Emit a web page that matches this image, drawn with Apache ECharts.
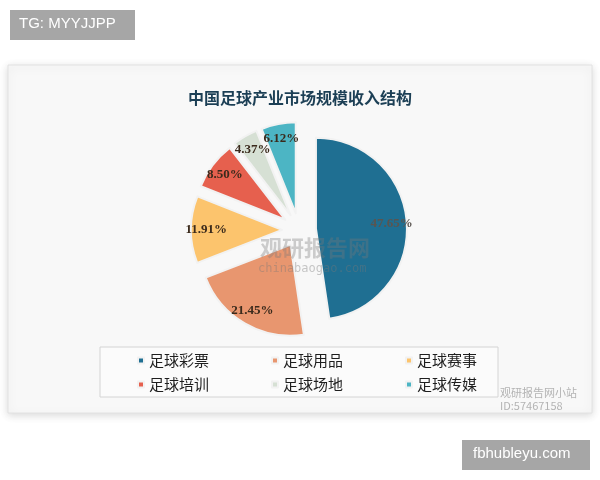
<!DOCTYPE html>
<html lang="zh">
<head>
    <meta charset="UTF-8">
    <title>中国足球产业市场规模收入结构</title>
    <script src="https://cdn.jsdelivr.net/npm/echarts@6/dist/echarts.min.js"></script>
    <style>
        html, body { margin: 0; padding: 0; background: #fff; }
    </style>
</head>
<body>
    <div id="main" style="width: 600px; height: 480px;"></div>
    <script>
        // data (percent of total)
        var categories = ['足球彩票', '足球用品', '足球赛事', '足球培训', '足球场地', '足球传媒'];
        var shares = [47.65, 21.45, 11.91, 8.50, 4.37, 6.12];
        var colors = ['#1f6f92', '#e8966f', '#fcc46d', '#e6604e', '#d6e0d4', '#4cb5c4'];

        var chart = echarts.init(document.getElementById('main'));

        var center = [299, 230];
        var R = 91;

        var pieData = categories.map(function (name, i) {
            return { name: name, value: shares[i], selected: true };
        });
        // label of the dark slice is drawn dimmer in the original
        var labelData = pieData.map(function (d, i) {
            var item = { name: d.name, value: d.value, selected: true };
            if (i === 0) item.label = { color: '#5a5550' };
            return item;
        });

        var legendText = { fontFamily: 'Noto Sans CJK SC', fontSize: 15, color: '#1e1e1e' };

        var option = {
            backgroundColor: '#fff',
            color: colors,
            title: {
                text: '中国足球产业市场规模收入结构',
                left: 'center',
                top: 85,
                textStyle: {
                    fontFamily: 'Noto Sans CJK SC',
                    fontSize: 16,
                    fontWeight: 'bold',
                    color: '#1c3f55'
                }
            },
            legend: [
                {
                    data: categories.slice(0, 3),
                    left: 132, top: 348,
                    itemWidth: 6, itemHeight: 6, itemGap: 62,
                    icon: 'rect',
                    textStyle: legendText
                },
                {
                    data: categories.slice(3),
                    left: 132, top: 372,
                    itemWidth: 6, itemHeight: 6, itemGap: 62,
                    icon: 'rect',
                    textStyle: legendText
                }
            ],
            graphic: [
                // panel with shadow
                {
                    type: 'rect', z: -10,
                    shape: { x: 8, y: 65, width: 584, height: 348 },
                    style: { fill: '#f8f8f8', stroke: '#e2e2e2', lineWidth: 1,
                        shadowBlur: 8, shadowColor: 'rgba(0,0,0,0.15)', shadowOffsetY: 2 }
                },
                // legend frame
                {
                    type: 'rect', z: -5,
                    shape: { x: 100, y: 347, width: 398, height: 50 },
                    style: { fill: '#fbfbfb', stroke: '#d4d4d4', lineWidth: 1 }
                },
                // center watermark
                {
                    type: 'text', z: 50, left: 260, top: 237,
                    style: { text: '观研报告网', fontFamily: 'Noto Sans CJK SC', fontWeight: 'bold',
                        fontSize: 22, fill: 'rgba(120,120,120,0.35)' }
                },
                {
                    type: 'text', z: 50, left: 258, top: 263,
                    style: { text: 'chinabaogao.com', fontFamily: 'DejaVu Sans Mono',
                        fontSize: 12, fill: 'rgba(120,120,120,0.4)' }
                },
                // bottom-right watermark
                {
                    type: 'text', z: 50, left: 500, top: 386,
                    style: { text: '观研报告网小站\nID:57467158', fontFamily: 'Noto Sans CJK SC',
                        fontSize: 11, lineHeight: 13, fill: 'rgba(150,150,150,0.7)' }
                },
                // overlay tags
                {
                    type: 'rect', z: 60,
                    shape: { x: 10, y: 10, width: 125, height: 30 },
                    style: { fill: '#a6a6a6' }
                },
                {
                    type: 'text', z: 61, left: 19, top: 16,
                    style: { text: 'TG: MYYJJPP', fontFamily: 'Liberation Sans', fontSize: 15, fill: '#fff' }
                },
                {
                    type: 'rect', z: 60,
                    shape: { x: 462, y: 440, width: 128, height: 30 },
                    style: { fill: '#a6a6a6' }
                },
                {
                    type: 'text', z: 61, left: 473, top: 446,
                    style: { text: 'fbhubleyu.com', fontFamily: 'Liberation Sans', fontSize: 15, fill: '#fff' }
                }
            ],
            series: [
                {
                    name: '收入结构',
                    type: 'pie',
                    center: center,
                    radius: [0, R],
                    startAngle: 90,
                    selectedMode: 'multiple',
                    selectedOffset: 17,
                    data: pieData,
                    label: { show: false },
                    labelLine: { show: false },
                    itemStyle: { borderColor: '#f2f2f2', borderWidth: 2 },
                    emphasis: { disabled: true }
                },
                {
                    // transparent ring used only to place the labels further out
                    name: 'labels',
                    type: 'pie',
                    center: center,
                    radius: [R * 0.6, R],
                    startAngle: 90,
                    selectedMode: 'multiple',
                    selectedOffset: 17,
                    avoidLabelOverlap: false,
                    data: labelData,
                    silent: true,
                    legendHoverLink: false,
                    itemStyle: { color: 'rgba(0,0,0,0)' },
                    label: {
                        show: true,
                        position: 'inside',
                        formatter: function (p) { return p.value.toFixed(2) + '%'; },
                        fontFamily: 'Liberation Serif',
                        fontWeight: 'bold',
                        fontSize: 13,
                        color: '#3a2a1c'
                    },
                    labelLayout: { hideOverlap: false },
                    labelLine: { show: false },
                    emphasis: { disabled: true }
                }
            ]
        };

        chart.setOption(option);
    </script>
</body>
</html>
